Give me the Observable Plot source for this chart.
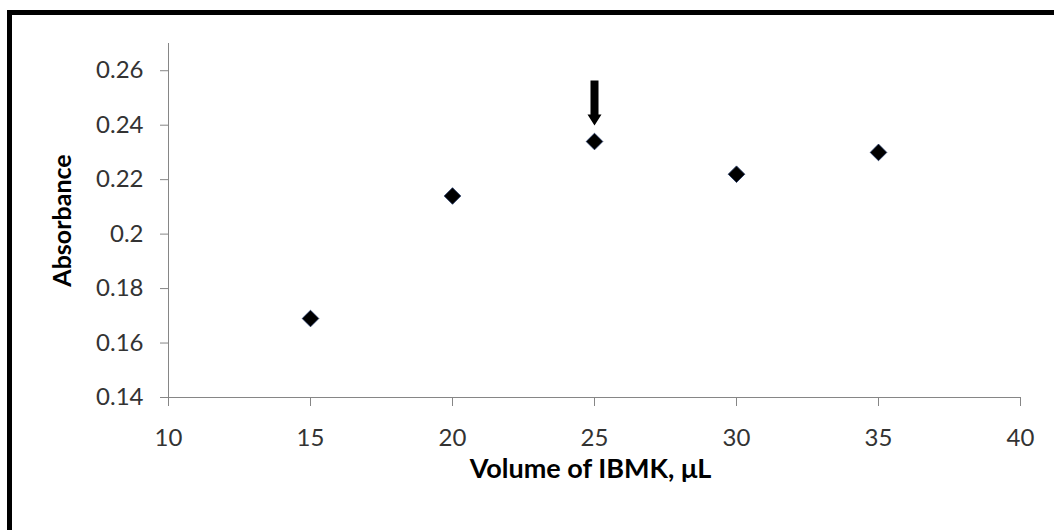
<!DOCTYPE html>
<html>
<head>
<meta charset="utf-8">
<script src="https://cdn.jsdelivr.net/npm/d3@7"></script>
<script src="https://cdn.jsdelivr.net/npm/@observablehq/plot@0.6"></script>
<style>
  html, body { margin: 0; padding: 0; background: #fff; overflow: hidden; }
  #wrap { position: relative; width: 1054px; height: 530px; overflow: hidden; }
  #wrap svg { position: absolute; left: 0; top: 0; }
  #frame { position: absolute; left: 7px; top: 10px; width: 1100px; height: 600px;
           border: 5px solid #000; box-sizing: border-box; pointer-events: none; }
</style>
</head>
<body>
<div id="wrap"><div id="frame"></div></div>
<script>
// Absorbance vs. extractant volume
const volumes = [15, 20, 25, 30, 35];
const absorbance = [0.169, 0.214, 0.234, 0.222, 0.230];
const xTicks = [10, 15, 20, 25, 30, 35, 40];
const yTicks = [0.14, 0.16, 0.18, 0.20, 0.22, 0.24, 0.26];
const optimumVolume = [25];

const points = volumes.map((v, i) => ({volume: v, absorbance: absorbance[i]}));
const optimum = points.filter(d => optimumVolume.includes(d.volume));

// Filled block arrow: shaft from tail (0,0) to head (0,-l)
const blockArrow = {
  draw(context, l) {
    const sw = 4, hw = 7, hl = 11;
    context.moveTo(-sw, 0);
    context.lineTo(-sw, -l + hl);
    context.lineTo(-hw, -l + hl);
    context.lineTo(0, -l);
    context.lineTo(hw, -l + hl);
    context.lineTo(sw, -l + hl);
    context.lineTo(sw, 0);
    context.closePath();
  }
};

const axisGray = "#868686";
const chart = Plot.plot({
  width: 1054,
  height: 530,
  marginLeft: 168,
  marginRight: 34,
  marginTop: 43,
  marginBottom: 133,
  style: {fontFamily: "Lato, 'Open Sans', sans-serif", fontSize: "24px", background: "transparent"},
  x: {domain: [10, 40]},
  y: {domain: [0.14, 0.27]},
  marks: [
    Plot.ruleX([10], {stroke: axisGray, strokeWidth: 1}),
    Plot.ruleY([0.14], {stroke: axisGray, strokeWidth: 1}),
    Plot.axisX({ticks: xTicks, tickSize: 9, tickPadding: 22, label: null,
                stroke: axisGray, fill: "#333", tickFormat: d => String(d)}),
    Plot.axisY({ticks: yTicks, tickSize: 8, tickPadding: 17, label: null,
                stroke: axisGray, fill: "#333", tickFormat: d => String(+d.toFixed(2))}),
    Plot.text(["Volume of IBMK, μL"], {frameAnchor: "bottom", dy: 72, dx: -4,
                lineAnchor: "middle", textAnchor: "middle",
                fontSize: 27, fontWeight: "bold", fill: "#000"}),
    Plot.text(["Absorbance"], {frameAnchor: "left", dx: -106, rotate: -90,
                lineAnchor: "middle", textAnchor: "middle",
                fontSize: 25, fontWeight: "bold", fill: "#000"}),
    Plot.dot(points, {x: "volume", y: "absorbance", symbol: "diamond2", r: 7.5,
                fill: "#000", stroke: "#1c3160", strokeWidth: 0.8}),
    Plot.vector(optimum, {x: "volume", y: "absorbance", length: 45, rotate: 180,
                anchor: "end", dy: -16, shape: blockArrow,
                fill: "#000", stroke: "none"})
  ]
});
document.getElementById("wrap").prepend(chart);
</script>
</body>
</html>
